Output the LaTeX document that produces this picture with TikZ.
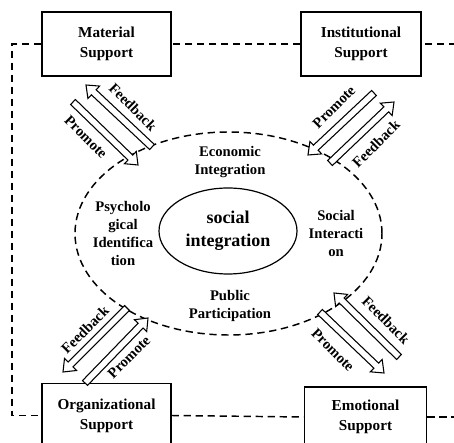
\documentclass[tikz,border=0pt]{standalone}
\usepackage{fontspec}
\setmainfont{Liberation Serif}
\usetikzlibrary{calc}

\tikzset{
  support/.style={draw, line width=0.8pt, fill=white, minimum width=#1, minimum height=48pt,
    align=center, font=\fontsize{11.4}{15}\selectfont\bfseries},
  factor/.style={align=center, font=\fontsize{11}{13.7}\selectfont\bfseries},
  arrowlabel/.style={font=\fontsize{11}{12}\selectfont\bfseries},
  link/.style={line width=1.1pt, dash pattern=on 5.5pt off 3.5pt},
  hollow/.style={draw, line width=0.8pt, fill=white, line join=miter},
}

% hollow block arrow from #1 (tail) to #2 (tip)
\newcommand\hollowarrow[2]{%
  \coordinate (hb) at ($(#2)!8pt!(#1)$);
  \draw[hollow] ($(#1)!2.6pt!90:(#2)$) -- ($(hb)!2.6pt!-90:(#1)$) -- ($(hb)!6.4pt!-90:(#1)$)
    -- (#2) -- ($(hb)!6.4pt!90:(#1)$) -- ($(hb)!2.6pt!90:(#1)$) -- ($(#1)!2.6pt!-90:(#2)$) -- cycle;
}

\begin{document}
\begin{tikzpicture}[x=7.5pt, y=7.5pt]
  \useasboundingbox (0,0) rectangle (45.4,44.3);

  % support boxes
  \node[support=96.75pt] (material) at (10.65,39.9) {Material\\Support};
  \node[support=90pt] (institutional) at (36.1,39.9) {Institutional\\Support};
  \node[support=96.75pt] (organizational) at (10.65,2.75) {Organizational\\Support};
  \node[support=92pt, minimum height=45pt] (emotional) at (36.55,2.6) {Emotional\\Support};

  % dashed frame round the boxes
  \coordinate (topleft) at (1.2,39.9);
  \coordinate (botleft) at (1.2,2.75);
  \coordinate (topright) at (45.6,39.9);
  \coordinate (botright) at (45.6,2.6);
  \draw[link] (topright) -- (institutional.east);
  \draw[link] (institutional.west) -- (material.east);
  \draw[link] (material.west) -- (topleft) -- (botleft) -- (organizational.west);
  \draw[link] (organizational.east) -- (emotional.west);
  \draw[link] (emotional.east) -- (botright);

  % the two ellipses
  \coordinate (centre) at (22.85,20.95);
  \draw[link] (centre) ellipse [x radius=15.35, y radius=10.15];
  \draw[line width=0.9pt] (22.8,21.2) ellipse [x radius=6.9, y radius=4.3];
  \node[align=center, font=\fontsize{13.5}{17}\selectfont\bfseries] (social) at (22.8,21.2) {social\\integration};

  \node[factor] (economic) at (23.0,28.1) {Economic\\Integration};
  \node[factor] (psycho) at (12.3,20.95) {Psycholo\\gical\\Identifica\\tion};
  \node[factor] (interaction) at (33.6,20.95) {Social\\Interacti\\on};
  \node[factor] (public) at (23.0,13.7) {Public\\Participation};

  % arrow ends
  \coordinate (fbOneA) at (15.2,29.6);  \coordinate (fbOneB) at (8.6,35.8);
  \coordinate (prOneA) at (7.3,34.1);   \coordinate (prOneB) at (13.8,27.8);
  \coordinate (prTwoA) at (37.4,35.0);  \coordinate (prTwoB) at (30.8,28.8);
  \coordinate (fbTwoA) at (33.0,28.0);  \coordinate (fbTwoB) at (39.4,34.1);
  \coordinate (fbThreeA) at (12.7,13.5); \coordinate (fbThreeB) at (6.3,7.1);
  \coordinate (prThreeA) at (8.5,6.0);   \coordinate (prThreeB) at (14.8,12.5);
  \coordinate (fbFourA) at (39.9,8.6);  \coordinate (fbFourB) at (33.4,15.0);
  \coordinate (prFourA) at (32.0,13.1); \coordinate (prFourB) at (38.4,7.0);

  \hollowarrow{fbOneA}{fbOneB}
  \hollowarrow{prOneA}{prOneB}
  \hollowarrow{prTwoA}{prTwoB}
  \hollowarrow{fbTwoA}{fbTwoB}
  \hollowarrow{fbThreeA}{fbThreeB}
  \hollowarrow{prThreeA}{prThreeB}
  \hollowarrow{fbFourA}{fbFourB}
  \hollowarrow{prFourA}{prFourB}

  \node[arrowlabel, rotate=-45] (fbOne) at (13.3,33.6) {Feedback};
  \node[arrowlabel, rotate=-45] (prOne) at (8.6,30.6) {Promote};
  \node[arrowlabel, rotate=45] (prTwo) at (33.4,33.6) {Promote};
  \node[arrowlabel, rotate=45] (fbTwo) at (37.6,29.9) {Feedback};
  \node[arrowlabel, rotate=45] (fbThree) at (8.5,11.3) {Feedback};
  \node[arrowlabel, rotate=45] (prThree) at (12.9,8.6) {Promote};
  \node[arrowlabel, rotate=-45] (fbFour) at (38.6,12.3) {Feedback};
  \node[arrowlabel, rotate=-45] (prFour) at (33.3,9.3) {Promote};
\end{tikzpicture}
\end{document}
